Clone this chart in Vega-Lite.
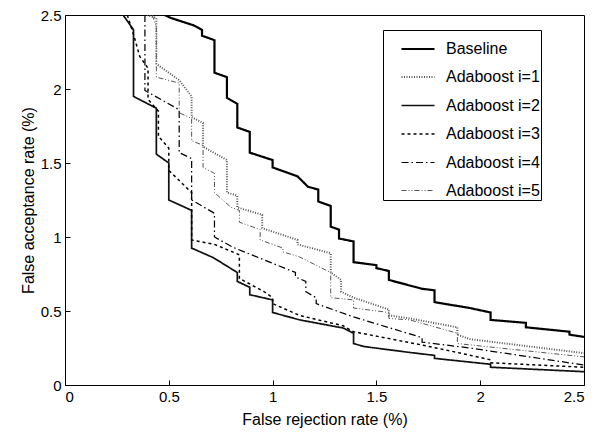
{
"$schema": "https://vega.github.io/schema/vega-lite/v6.json",
"width": 519, "height": 370,
"autosize": {"type": "none"},
"padding": {"left": 65, "top": 15, "right": 19, "bottom": 50},
"background": "white",
"config": {"view": {"stroke": "black", "strokeWidth": 1}, "font": "Liberation Sans"},
"data": {"values": [
{"s":"Baseline","i":0,"x":0.48,"y":2.5},{"s":"Baseline","i":1,"x":0.51,"y":2.48},{"s":"Baseline","i":2,"x":0.62,"y":2.43},{"s":"Baseline","i":3,"x":0.66,"y":2.40},{"s":"Baseline","i":4,"x":0.66,"y":2.36},{"s":"Baseline","i":5,"x":0.72,"y":2.33},{"s":"Baseline","i":6,"x":0.72,"y":2.11},{"s":"Baseline","i":7,"x":0.78,"y":2.08},{"s":"Baseline","i":8,"x":0.78,"y":1.94},{"s":"Baseline","i":9,"x":0.83,"y":1.90},{"s":"Baseline","i":10,"x":0.83,"y":1.74},{"s":"Baseline","i":11,"x":0.89,"y":1.71},{"s":"Baseline","i":12,"x":0.89,"y":1.57},{"s":"Baseline","i":13,"x":1.0,"y":1.52},{"s":"Baseline","i":14,"x":1.0,"y":1.47},{"s":"Baseline","i":15,"x":1.12,"y":1.41},{"s":"Baseline","i":16,"x":1.17,"y":1.34},{"s":"Baseline","i":17,"x":1.22,"y":1.32},{"s":"Baseline","i":18,"x":1.22,"y":1.24},{"s":"Baseline","i":19,"x":1.28,"y":1.21},{"s":"Baseline","i":20,"x":1.28,"y":1.07},{"s":"Baseline","i":21,"x":1.32,"y":1.05},{"s":"Baseline","i":22,"x":1.32,"y":0.99},{"s":"Baseline","i":23,"x":1.39,"y":0.97},{"s":"Baseline","i":24,"x":1.39,"y":0.83},{"s":"Baseline","i":25,"x":1.50,"y":0.81},{"s":"Baseline","i":26,"x":1.50,"y":0.79},{"s":"Baseline","i":27,"x":1.56,"y":0.77},{"s":"Baseline","i":28,"x":1.56,"y":0.71},{"s":"Baseline","i":29,"x":1.72,"y":0.65},{"s":"Baseline","i":30,"x":1.78,"y":0.64},{"s":"Baseline","i":31,"x":1.78,"y":0.56},{"s":"Baseline","i":32,"x":1.95,"y":0.52},{"s":"Baseline","i":33,"x":2.05,"y":0.49},{"s":"Baseline","i":34,"x":2.05,"y":0.44},{"s":"Baseline","i":35,"x":2.22,"y":0.42},{"s":"Baseline","i":36,"x":2.22,"y":0.39},{"s":"Baseline","i":37,"x":2.43,"y":0.36},{"s":"Baseline","i":38,"x":2.43,"y":0.34},{"s":"Baseline","i":39,"x":2.5,"y":0.325},
{"s":"Adaboost i=1","i":0,"x":0.395,"y":2.5},{"s":"Adaboost i=1","i":1,"x":0.44,"y":2.48},{"s":"Adaboost i=1","i":2,"x":0.44,"y":2.17},{"s":"Adaboost i=1","i":3,"x":0.55,"y":2.06},{"s":"Adaboost i=1","i":4,"x":0.61,"y":1.95},{"s":"Adaboost i=1","i":5,"x":0.61,"y":1.81},{"s":"Adaboost i=1","i":6,"x":0.665,"y":1.77},{"s":"Adaboost i=1","i":7,"x":0.665,"y":1.61},{"s":"Adaboost i=1","i":8,"x":0.78,"y":1.52},{"s":"Adaboost i=1","i":9,"x":0.78,"y":1.30},{"s":"Adaboost i=1","i":10,"x":0.83,"y":1.28},{"s":"Adaboost i=1","i":11,"x":0.83,"y":1.20},{"s":"Adaboost i=1","i":12,"x":0.95,"y":1.15},{"s":"Adaboost i=1","i":13,"x":0.95,"y":1.06},{"s":"Adaboost i=1","i":14,"x":1.12,"y":0.98},{"s":"Adaboost i=1","i":15,"x":1.12,"y":0.95},{"s":"Adaboost i=1","i":16,"x":1.28,"y":0.89},{"s":"Adaboost i=1","i":17,"x":1.28,"y":0.76},{"s":"Adaboost i=1","i":18,"x":1.33,"y":0.71},{"s":"Adaboost i=1","i":19,"x":1.33,"y":0.63},{"s":"Adaboost i=1","i":20,"x":1.39,"y":0.59},{"s":"Adaboost i=1","i":21,"x":1.56,"y":0.51},{"s":"Adaboost i=1","i":22,"x":1.56,"y":0.47},{"s":"Adaboost i=1","i":23,"x":1.66,"y":0.45},{"s":"Adaboost i=1","i":24,"x":1.89,"y":0.39},{"s":"Adaboost i=1","i":25,"x":1.89,"y":0.34},{"s":"Adaboost i=1","i":26,"x":1.95,"y":0.31},{"s":"Adaboost i=1","i":27,"x":2.5,"y":0.215},
{"s":"Adaboost i=2","i":0,"x":0.28,"y":2.5},{"s":"Adaboost i=2","i":1,"x":0.33,"y":2.40},{"s":"Adaboost i=2","i":2,"x":0.33,"y":1.95},{"s":"Adaboost i=2","i":3,"x":0.44,"y":1.87},{"s":"Adaboost i=2","i":4,"x":0.44,"y":1.56},{"s":"Adaboost i=2","i":5,"x":0.50,"y":1.50},{"s":"Adaboost i=2","i":6,"x":0.50,"y":1.25},{"s":"Adaboost i=2","i":7,"x":0.61,"y":1.18},{"s":"Adaboost i=2","i":8,"x":0.61,"y":0.925},{"s":"Adaboost i=2","i":9,"x":0.715,"y":0.86},{"s":"Adaboost i=2","i":10,"x":0.83,"y":0.76},{"s":"Adaboost i=2","i":11,"x":0.83,"y":0.70},{"s":"Adaboost i=2","i":12,"x":0.89,"y":0.66},{"s":"Adaboost i=2","i":13,"x":0.89,"y":0.61},{"s":"Adaboost i=2","i":14,"x":1.0,"y":0.575},{"s":"Adaboost i=2","i":15,"x":1.0,"y":0.49},{"s":"Adaboost i=2","i":16,"x":1.13,"y":0.44},{"s":"Adaboost i=2","i":17,"x":1.34,"y":0.385},{"s":"Adaboost i=2","i":18,"x":1.39,"y":0.35},{"s":"Adaboost i=2","i":19,"x":1.39,"y":0.28},{"s":"Adaboost i=2","i":20,"x":1.44,"y":0.26},{"s":"Adaboost i=2","i":21,"x":1.66,"y":0.22},{"s":"Adaboost i=2","i":22,"x":1.78,"y":0.20},{"s":"Adaboost i=2","i":23,"x":1.78,"y":0.18},{"s":"Adaboost i=2","i":24,"x":2.05,"y":0.14},{"s":"Adaboost i=2","i":25,"x":2.05,"y":0.12},{"s":"Adaboost i=2","i":26,"x":2.5,"y":0.09},
{"s":"Adaboost i=3","i":0,"x":0.30,"y":2.5},{"s":"Adaboost i=3","i":1,"x":0.33,"y":2.37},{"s":"Adaboost i=3","i":2,"x":0.36,"y":2.22},{"s":"Adaboost i=3","i":3,"x":0.40,"y":2.14},{"s":"Adaboost i=3","i":4,"x":0.40,"y":1.93},{"s":"Adaboost i=3","i":5,"x":0.45,"y":1.85},{"s":"Adaboost i=3","i":6,"x":0.45,"y":1.68},{"s":"Adaboost i=3","i":7,"x":0.50,"y":1.60},{"s":"Adaboost i=3","i":8,"x":0.50,"y":1.45},{"s":"Adaboost i=3","i":9,"x":0.61,"y":1.30},{"s":"Adaboost i=3","i":10,"x":0.61,"y":0.98},{"s":"Adaboost i=3","i":11,"x":0.72,"y":0.95},{"s":"Adaboost i=3","i":12,"x":0.84,"y":0.88},{"s":"Adaboost i=3","i":13,"x":0.84,"y":0.72},{"s":"Adaboost i=3","i":14,"x":0.96,"y":0.63},{"s":"Adaboost i=3","i":15,"x":1.0,"y":0.59},{"s":"Adaboost i=3","i":16,"x":1.0,"y":0.55},{"s":"Adaboost i=3","i":17,"x":1.13,"y":0.47},{"s":"Adaboost i=3","i":18,"x":1.34,"y":0.40},{"s":"Adaboost i=3","i":19,"x":1.39,"y":0.36},{"s":"Adaboost i=3","i":20,"x":1.72,"y":0.27},{"s":"Adaboost i=3","i":21,"x":1.89,"y":0.22},{"s":"Adaboost i=3","i":22,"x":2.05,"y":0.17},{"s":"Adaboost i=3","i":23,"x":2.05,"y":0.15},{"s":"Adaboost i=3","i":24,"x":2.5,"y":0.12},
{"s":"Adaboost i=4","i":0,"x":0.385,"y":2.5},{"s":"Adaboost i=4","i":1,"x":0.385,"y":1.99},{"s":"Adaboost i=4","i":2,"x":0.55,"y":1.86},{"s":"Adaboost i=4","i":3,"x":0.55,"y":1.57},{"s":"Adaboost i=4","i":4,"x":0.61,"y":1.53},{"s":"Adaboost i=4","i":5,"x":0.61,"y":1.25},{"s":"Adaboost i=4","i":6,"x":0.72,"y":1.16},{"s":"Adaboost i=4","i":7,"x":0.72,"y":1.0},{"s":"Adaboost i=4","i":8,"x":0.81,"y":0.93},{"s":"Adaboost i=4","i":9,"x":1.11,"y":0.76},{"s":"Adaboost i=4","i":10,"x":1.11,"y":0.73},{"s":"Adaboost i=4","i":11,"x":1.16,"y":0.70},{"s":"Adaboost i=4","i":12,"x":1.16,"y":0.63},{"s":"Adaboost i=4","i":13,"x":1.21,"y":0.59},{"s":"Adaboost i=4","i":14,"x":1.21,"y":0.55},{"s":"Adaboost i=4","i":15,"x":1.39,"y":0.46},{"s":"Adaboost i=4","i":16,"x":1.72,"y":0.32},{"s":"Adaboost i=4","i":17,"x":1.72,"y":0.29},{"s":"Adaboost i=4","i":18,"x":1.95,"y":0.25},{"s":"Adaboost i=4","i":19,"x":2.5,"y":0.135},
{"s":"Adaboost i=5","i":0,"x":0.42,"y":2.5},{"s":"Adaboost i=5","i":1,"x":0.44,"y":2.42},{"s":"Adaboost i=5","i":2,"x":0.44,"y":2.08},{"s":"Adaboost i=5","i":3,"x":0.55,"y":2.04},{"s":"Adaboost i=5","i":4,"x":0.55,"y":1.84},{"s":"Adaboost i=5","i":5,"x":0.61,"y":1.80},{"s":"Adaboost i=5","i":6,"x":0.61,"y":1.65},{"s":"Adaboost i=5","i":7,"x":0.665,"y":1.62},{"s":"Adaboost i=5","i":8,"x":0.665,"y":1.47},{"s":"Adaboost i=5","i":9,"x":0.72,"y":1.43},{"s":"Adaboost i=5","i":10,"x":0.72,"y":1.30},{"s":"Adaboost i=5","i":11,"x":0.80,"y":1.20},{"s":"Adaboost i=5","i":12,"x":0.84,"y":1.18},{"s":"Adaboost i=5","i":13,"x":0.84,"y":1.10},{"s":"Adaboost i=5","i":14,"x":0.94,"y":1.05},{"s":"Adaboost i=5","i":15,"x":0.94,"y":0.98},{"s":"Adaboost i=5","i":16,"x":1.05,"y":0.925},{"s":"Adaboost i=5","i":17,"x":1.05,"y":0.90},{"s":"Adaboost i=5","i":18,"x":1.13,"y":0.865},{"s":"Adaboost i=5","i":19,"x":1.28,"y":0.76},{"s":"Adaboost i=5","i":20,"x":1.28,"y":0.59},{"s":"Adaboost i=5","i":21,"x":1.39,"y":0.575},{"s":"Adaboost i=5","i":22,"x":1.39,"y":0.52},{"s":"Adaboost i=5","i":23,"x":1.56,"y":0.49},{"s":"Adaboost i=5","i":24,"x":1.56,"y":0.45},{"s":"Adaboost i=5","i":25,"x":1.66,"y":0.44},{"s":"Adaboost i=5","i":26,"x":1.89,"y":0.35},{"s":"Adaboost i=5","i":27,"x":1.89,"y":0.28},{"s":"Adaboost i=5","i":28,"x":2.5,"y":0.19}
]},
"mark": {"type": "line", "clip": true, "strokeCap": "butt"},
"encoding": {
"x": {"field": "x", "type": "quantitative", "scale": {"domain": [0, 2.5], "nice": false, "zero": false},
 "axis": {"title": "False rejection rate (%)", "values": [0, 0.5, 1, 1.5, 2, 2.5], "format": "~g", "grid": false, "domain": false, "tickSize": -5, "tickColor": "black", "labelFontSize": 15, "labelColor": "black", "labelPadding": 9, "titleFontSize": 16, "titleFontWeight": "normal", "titleColor": "black", "titlePadding": 7, "labelFont": "Liberation Sans", "titleFont": "Liberation Sans"}},
"y": {"field": "y", "type": "quantitative", "scale": {"domain": [0, 2.5], "nice": false, "zero": false},
 "axis": {"title": "False acceptance rate (%)", "values": [0, 0.5, 1, 1.5, 2, 2.5], "format": "~g", "grid": false, "domain": false, "tickSize": -5, "tickColor": "black", "labelFontSize": 15, "labelColor": "black", "labelPadding": 9, "titleFontSize": 16, "titleFontWeight": "normal", "titleColor": "black", "titlePadding": 4, "labelFont": "Liberation Sans", "titleFont": "Liberation Sans"}},
"order": {"field": "i", "type": "quantitative"},
"color": {"field": "s", "type": "nominal", "scale": {"domain": ["Baseline", "Adaboost i=1", "Adaboost i=2", "Adaboost i=3", "Adaboost i=4", "Adaboost i=5"], "range": ["#000000", "#555555", "#111111", "#000000", "#000000", "#555555"]},
 "legend": {"title": null, "orient": "none", "legendX": 318, "legendY": 15, "symbolType": "stroke", "symbolSize": 1089, "symbolStrokeWidth": 1, "labelFontSize": 16, "labelFont": "Liberation Sans", "labelColor": "black", "rowPadding": 2.5, "padding": 1, "strokeColor": "black", "fillColor": "white", "labelOffset": 10, "symbolOffset": 16, "labelLimit": 300, "labelExpr": "datum.label + '\u00a0\u00a0\u00a0\u00a0\u00a0\u00a0\u00a0\u00a0\u00a0\u00a0'"}},
"strokeDash": {"field": "s", "type": "nominal", "scale": {"domain": ["Baseline", "Adaboost i=1", "Adaboost i=2", "Adaboost i=3", "Adaboost i=4", "Adaboost i=5"], "range": [[1, 0], [1, 1.5], [1, 0], [3, 3], [7, 3, 1.5, 3], [5, 2, 1, 2, 1, 2]]}},
"strokeWidth": {"field": "s", "type": "nominal", "scale": {"domain": ["Baseline", "Adaboost i=1", "Adaboost i=2", "Adaboost i=3", "Adaboost i=4", "Adaboost i=5"], "range": [2.2, 1, 1, 1, 1, 1]}}
}
}
